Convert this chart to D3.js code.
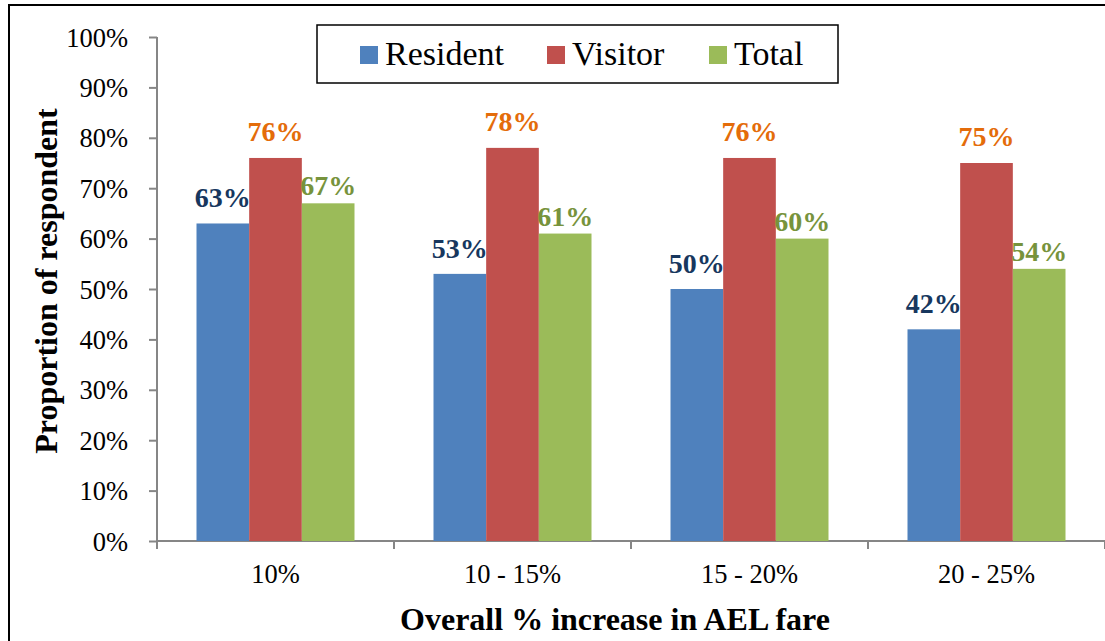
<!DOCTYPE html>
<html lang="en">
<head>
<meta charset="UTF-8">
<title>AEL fare increase</title>
<script src="https://d3js.org/d3.v7.min.js"></script>
<style>
    body { margin: 0; background: #fff; }
    .axis path, .axis line { stroke: #868686; stroke-width: 2px; }
</style>
</head>
<body>
<svg width="1105" height="641"></svg>
<script>
    // data
    const categories = ["10%", "10 - 15%", "15 - 20%", "20 - 25%"];
    const seriesNames = ["Resident", "Visitor", "Total"];
    const resident = [63, 53, 50, 42];
    const visitor = [76, 78, 76, 75];
    const total = [67, 61, 60, 54];
    const yTicks = [0, 10, 20, 30, 40, 50, 60, 70, 80, 90, 100];

    const barColors = ["#4F81BD", "#C0504D", "#9BBB59"];
    const labelColors = ["#17375E", "#E46C0A", "#77933C"];
    const labelLift = [16, 17, 8];
    const FONT = "'Liberation Serif', 'Times New Roman', Times, serif";

    const svg = d3.select("svg").attr("font-family", FONT);

    // outer frame
    svg.append("rect")
        .attr("x", 9).attr("y", 5)
        .attr("width", 1110).attr("height", 650)
        .attr("fill", "none").attr("stroke", "#000").attr("stroke-width", 2);

    const plot = { left: 157, right: 1105, top: 37, bottom: 541 };

    const x = d3.scaleBand().domain(categories).range([plot.left, plot.right]).paddingInner(0).paddingOuter(0);
    const xs = d3.scaleBand().domain(seriesNames).range([0, x.bandwidth()]).paddingInner(0).paddingOuter(0.75);
    const y = d3.scaleLinear().domain([0, 100]).range([plot.bottom, plot.top]);

    // y axis
    const yAxis = svg.append("g").attr("class", "axis")
        .attr("transform", `translate(${plot.left},0)`)
        .call(d3.axisLeft(y).tickValues(yTicks).tickSize(8).tickPadding(21).tickFormat(d => d + "%"));
    yAxis.select(".domain").attr("d", `M0,${plot.top}V${plot.bottom}`);

    // x axis
    const xAxis = svg.append("g").attr("class", "axis")
        .attr("transform", `translate(0,${plot.bottom})`)
        .call(d3.axisBottom(x).tickSize(0).tickPadding(22));
    xAxis.select(".domain").attr("d", `M${plot.left},0H${plot.right}`);
    xAxis.selectAll(".sep")
        .data(categories.concat([""]))
        .enter().append("line")
        .attr("class", "sep")
        .attr("x1", (d, i) => plot.left + i * x.bandwidth())
        .attr("x2", (d, i) => plot.left + i * x.bandwidth())
        .attr("y1", 0).attr("y2", 8);

    svg.selectAll(".axis").attr("font-family", FONT).attr("font-size", 26.5);
    svg.selectAll(".axis text").attr("fill", "#000");
    yAxis.selectAll("text").attr("dy", "0.34em");
    xAxis.selectAll(".tick text").attr("dy", 0).attr("y", 42);

    const rows = [resident, visitor, total];

    // bars
    seriesNames.forEach((s, si) => {
        const g = svg.append("g");
        g.selectAll("rect")
            .data(rows[si])
            .enter().append("rect")
            .attr("x", (d, i) => x(categories[i]) + xs(s))
            .attr("y", d => y(d))
            .attr("width", xs.bandwidth())
            .attr("height", d => plot.bottom - y(d))
            .attr("fill", barColors[si]);
        g.selectAll("text")
            .data(rows[si])
            .enter().append("text")
            .attr("x", (d, i) => x(categories[i]) + xs(s) + xs.bandwidth() / 2)
            .attr("y", d => y(d) - labelLift[si])
            .attr("text-anchor", "middle")
            .attr("font-size", 28)
            .attr("font-weight", "bold")
            .attr("fill", labelColors[si])
            .text(d => d + "%");
    });

    // legend
    const legend = svg.append("g");
    legend.append("rect")
        .attr("x", 317).attr("y", 25).attr("width", 521).attr("height", 58)
        .attr("fill", "#fff").attr("stroke", "#000").attr("stroke-width", 1.5);
    const legendX = [360, 547, 709];
    seriesNames.forEach((s, si) => {
        legend.append("rect")
            .attr("x", legendX[si]).attr("y", 46).attr("width", 18).attr("height", 18)
            .attr("fill", barColors[si]);
        legend.append("text")
            .attr("x", legendX[si] + 25).attr("y", 65)
            .attr("font-size", 34)
            .text(s);
    });

    // axis titles
    svg.append("text")
        .attr("transform", "translate(57,281) rotate(-90)")
        .attr("text-anchor", "middle")
        .attr("font-size", 32).attr("font-weight", "bold")
        .text("Proportion of respondent");
    svg.append("text")
        .attr("x", 615).attr("y", 630)
        .attr("text-anchor", "middle")
        .attr("font-size", 32).attr("font-weight", "bold")
        .text("Overall % increase in AEL fare");
</script>
</body>
</html>
